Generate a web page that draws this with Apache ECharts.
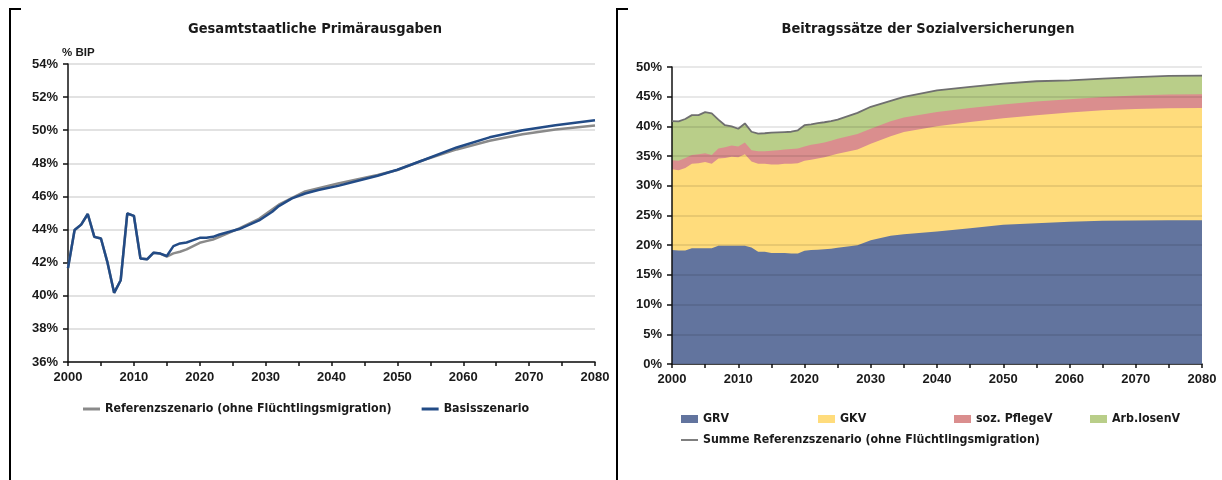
<!DOCTYPE html>
<html>
<head>
<meta charset="utf-8">
<script src="https://cdn.jsdelivr.net/npm/echarts@6/dist/echarts.min.js"></script>
<style>
html,body{margin:0;padding:0;background:#fff;}
#c{width:1222px;height:480px;}
</style>
</head>
<body>
<div id="c"></div>
<script>
// ---------- Left chart: Gesamtstaatliche Primärausgaben (% BIP) ----------
const basisYears = [2000,2001,2002,2003,2004,2005,2006,2007,2008,2009,2010,2011,2012,2013,2014,2015,2016,2017,2018,2019,2020,2021,2022,2023,2026,2029,2031,2032,2034,2036,2038,2041,2044,2047,2050,2054,2059,2064,2069,2074,2080];
const basis = [41.67,43.97,44.3,44.94,43.56,43.46,42.0,40.18,40.94,44.97,44.83,42.25,42.2,42.6,42.55,42.4,43.0,43.16,43.22,43.36,43.5,43.5,43.56,43.7,44.03,44.55,45.08,45.42,45.88,46.18,46.39,46.64,46.95,47.25,47.61,48.2,48.96,49.57,50.0,50.3,50.6];
const refYears = [2000,2001,2002,2003,2004,2005,2006,2007,2008,2009,2010,2011,2012,2013,2014,2015,2016,2017,2018,2019,2020,2021,2022,2023,2026,2029,2032,2036,2041,2047,2050,2054,2059,2064,2069,2074,2080];
const referenz = [41.67,43.97,44.3,44.94,43.56,43.46,42.0,40.18,40.94,44.97,44.83,42.25,42.2,42.6,42.55,42.37,42.56,42.66,42.8,43.0,43.2,43.3,43.4,43.56,44.07,44.65,45.5,46.3,46.78,47.3,47.6,48.2,48.84,49.36,49.76,50.04,50.28];
const leftTitle = 'Gesamtstaatliche Primärausgaben';
const leftUnit = '% BIP';
const leftNames = ['Referenzszenario (ohne Flüchtlingsmigration)', 'Basisszenario'];

// ---------- Right chart: Beitragssätze der Sozialversicherungen (%) ----------
const rYears = [2000,2001,2002,2003,2004,2005,2006,2007,2008,2009,2010,2011,2012,2013,2014,2015,2016,2017,2018,2019,2020,2021,2022,2023,2024,2025,2028,2030,2033,2035,2040,2045,2050,2055,2060,2065,2070,2075,2080];
const grv = [19.2,19.1,19.1,19.5,19.5,19.5,19.5,19.9,19.9,19.9,19.9,19.9,19.6,18.9,18.9,18.7,18.7,18.7,18.6,18.6,19.05,19.2,19.25,19.3,19.4,19.55,20.0,20.85,21.6,21.86,22.3,22.87,23.43,23.7,23.93,24.1,24.15,24.2,24.2];
const gkv = [13.6,13.5,13.9,14.2,14.3,14.5,14.2,14.7,14.8,15.0,14.9,15.4,14.5,14.8,14.8,14.9,14.9,15.0,15.1,15.2,15.15,15.2,15.35,15.5,15.7,15.85,16.1,16.25,16.75,17.21,17.73,17.89,17.94,18.18,18.4,18.62,18.79,18.85,18.9];
const pflege = [1.5,1.6,1.7,1.5,1.5,1.5,1.5,1.7,1.8,1.9,1.8,2.0,1.9,2.1,2.1,2.3,2.4,2.4,2.5,2.5,2.4,2.5,2.5,2.5,2.5,2.5,2.6,2.5,2.52,2.43,2.4,2.34,2.33,2.32,2.24,2.24,2.26,2.3,2.3];
const alv = [6.6,6.65,6.55,6.7,6.6,6.9,7.0,4.85,3.7,3.2,3.0,3.2,3.1,3.0,3.05,3.05,3.0,2.95,2.9,3.05,3.6,3.45,3.45,3.4,3.3,3.25,3.57,3.7,3.43,3.46,3.65,3.54,3.5,3.4,3.19,3.08,3.1,3.15,3.15];
const summeRef = [40.9,40.85,41.25,41.9,41.9,42.4,42.2,41.15,40.2,40.0,39.6,40.5,39.1,38.8,38.85,38.95,39.0,39.05,39.1,39.35,40.2,40.35,40.55,40.7,40.9,41.15,42.27,43.3,44.3,44.96,46.08,46.64,47.2,47.6,47.76,48.04,48.3,48.5,48.55];
const rightTitle = 'Beitragssätze der Sozialversicherungen';
const rightNames = ['GRV', 'GKV', 'soz. PflegeV', 'Arb.losenV', 'Summe Referenzszenario (ohne Flüchtlingsmigration)'];

// x-axis ticks
const xMin = 2000, xMax = 2080, xTickStep = 5, xLabelStep = 10;

const pairs = (xs, ys) => xs.map((x, i) => [x, ys[i]]);
// cumulative (stacked) tops of the components, built from the arrays above
const addArr = (a, b) => a.map((v, i) => +(v + b[i]).toFixed(3));
const cumGRV = grv;
const cumGKV = addArr(cumGRV, gkv);
const cumPfl = addArr(cumGKV, pflege);
const cumALV = addArr(cumPfl, alv);

const NARROW = '"DejaVu Sans Condensed", "Liberation Sans Narrow", sans-serif';
const SANS = '"Liberation Sans", Arial, sans-serif';
const txt = '#1a1a1a';

function xAxisCfg(gridIndex) {
  return {
    type: 'value', gridIndex, min: xMin, max: xMax, interval: xTickStep,
    axisLine: {show: true, lineStyle: {color: '#111', width: 1.5}},
    axisTick: {show: true, length: 4, lineStyle: {color: '#111', width: 1.5}},
    axisLabel: {
      margin: 9, color: txt, fontFamily: SANS, fontWeight: 'bold', fontSize: 13,
      formatter: v => (v % xLabelStep === 0 ? String(v) : '')
    },
    splitLine: {show: false}
  };
}

const chart = echarts.init(document.getElementById('c'), null, {renderer: 'canvas'});

const legendText = {color: txt, fontFamily: NARROW, fontWeight: 'bold', fontSize: 12.3};

function areaSeries(name, ys, color) {
  return {
    name, type: 'line', xAxisIndex: 1, yAxisIndex: 1,
    data: pairs(rYears, ys), symbol: 'none', lineStyle: {width: 0},
    areaStyle: {color, opacity: 1, origin: 'start'}, itemStyle: {color}, z: 2
  };
}

const option = {
  animation: false,
  backgroundColor: '#fff',
  grid: [
    {left: 68, right: 627, top: 64, bottom: 118},
    {left: 672, right: 20, top: 67, bottom: 116}
  ],
  xAxis: [xAxisCfg(0), xAxisCfg(1)],
  yAxis: [
    {
      type: 'value', gridIndex: 0, min: 36, max: 54, interval: 2,
      axisLine: {show: true, lineStyle: {color: '#111', width: 1.5}},
      axisTick: {show: true, length: 5, lineStyle: {color: '#111', width: 1.5}},
      axisLabel: {margin: 10, color: txt, fontFamily: SANS, fontWeight: 'bold', fontSize: 13, formatter: v => v + '%'},
      splitLine: {show: true, lineStyle: {color: '#d9d9d9', width: 1.5}}
    },
    {
      type: 'value', gridIndex: 1, min: 0, max: 50, interval: 5, z: 3,
      axisLine: {show: true, lineStyle: {color: '#111', width: 1.5}},
      axisTick: {show: true, length: 5, lineStyle: {color: '#111', width: 1.5}},
      axisLabel: {margin: 10, color: txt, fontFamily: SANS, fontWeight: 'bold', fontSize: 13, formatter: v => v + '%'},
      splitLine: {show: true, lineStyle: {color: 'rgba(0,0,0,0.12)', width: 1.5}}
    }
  ],
  legend: [
    {
      data: [{name: leftNames[0], icon: 'rect'}, {name: leftNames[1], icon: 'rect'}],
      left: 83, top: 403, itemWidth: 17, itemHeight: 3, itemGap: 30, padding: 0,
      textStyle: legendText
    },
    {data: [{name: rightNames[0], icon: 'rect'}], left: 681, top: 413, itemWidth: 17, itemHeight: 8, padding: 0, textStyle: legendText},
    {data: [{name: rightNames[1], icon: 'rect'}], left: 818, top: 413, itemWidth: 17, itemHeight: 8, padding: 0, textStyle: legendText},
    {data: [{name: rightNames[2], icon: 'rect'}], left: 954, top: 413, itemWidth: 17, itemHeight: 8, padding: 0, textStyle: legendText},
    {data: [{name: rightNames[3], icon: 'rect'}], left: 1090, top: 413, itemWidth: 17, itemHeight: 8, padding: 0, textStyle: legendText},
    {data: [{name: rightNames[4], icon: 'rect'}], left: 681, top: 434, itemWidth: 17, itemHeight: 2, padding: 0, textStyle: legendText}
  ],
  series: [
    {
      name: leftNames[0], type: 'line', xAxisIndex: 0, yAxisIndex: 0,
      data: pairs(refYears, referenz), symbol: 'none', z: 2,
      lineStyle: {color: '#8a8a8a', width: 2.5}, itemStyle: {color: '#8a8a8a'}
    },
    {
      name: leftNames[1], type: 'line', xAxisIndex: 0, yAxisIndex: 0,
      data: pairs(basisYears, basis), symbol: 'none', z: 3,
      lineStyle: {color: '#224B86', width: 2.5}, itemStyle: {color: '#224B86'}
    },
    // drawn top-down so each lower layer covers the one above it
    areaSeries(rightNames[3], cumALV, '#B9CE89'),
    areaSeries(rightNames[2], cumPfl, '#DA8E8E'),
    areaSeries(rightNames[1], cumGKV, '#FFDC7C'),
    areaSeries(rightNames[0], cumGRV, '#62749E'),
    {
      name: rightNames[4], type: 'line', xAxisIndex: 1, yAxisIndex: 1, z: 4,
      data: pairs(rYears, summeRef), symbol: 'none',
      lineStyle: {color: '#6f6f6f', width: 1.8}, itemStyle: {color: '#7f7f7f'}
    }
  ],
  graphic: [
    {type: 'text', left: 62, top: 47, style: {text: leftUnit, fill: txt, font: 'bold 11.5px ' + SANS}},
    {type: 'text', x: 315, y: 29, style: {text: leftTitle, fill: txt, align: 'center', verticalAlign: 'middle', font: 'bold 14.5px ' + NARROW}},
    {type: 'text', x: 928, y: 29, style: {text: rightTitle, fill: txt, align: 'center', verticalAlign: 'middle', font: 'bold 14.5px ' + NARROW}},
    {type: 'polyline', shape: {points: [[21, 9], [10, 9], [10, 480]]}, style: {stroke: '#000', lineWidth: 2, fill: null}},
    {type: 'polyline', shape: {points: [[628, 9], [617, 9], [617, 480]]}, style: {stroke: '#000', lineWidth: 2, fill: null}}
  ]
};
chart.setOption(option);
</script>
</body>
</html>
